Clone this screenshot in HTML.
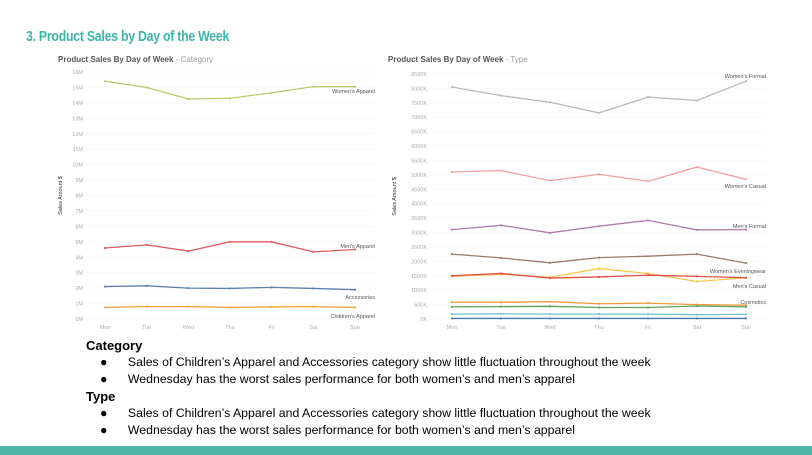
<!DOCTYPE html>
<html><head><meta charset="utf-8"><style>
body{margin:0;width:812px;height:455px;background:#fff;position:relative;overflow:hidden;font-family:"Liberation Sans",sans-serif}
.t{position:absolute;white-space:nowrap}
svg text{font-family:"Liberation Sans",sans-serif}
</style></head><body>
<div class="t" style="left:26px;top:28px;font-size:15px;font-weight:bold;color:#3fb4a8;letter-spacing:-0.3px;transform:scaleX(0.82);transform-origin:0 0">3. Product Sales by Day of the Week</div>
<svg id="c" width="812" height="340" style="position:absolute;left:0;top:0"></svg>
<div class="t" style="left:86px;top:338px;font-size:13px;font-weight:bold">Category</div>
<div class="t" style="left:100px;top:355px;font-size:12.3px">●&nbsp;&nbsp;&nbsp;&nbsp;&nbsp;&nbsp;Sales of Children’s Apparel and Accessories category show little fluctuation throughout the week</div>
<div class="t" style="left:100px;top:372px;font-size:12.3px">●&nbsp;&nbsp;&nbsp;&nbsp;&nbsp;&nbsp;Wednesday has the worst sales performance for both women’s and men’s apparel</div>
<div class="t" style="left:86px;top:389px;font-size:13px;font-weight:bold">Type</div>
<div class="t" style="left:100px;top:406px;font-size:12.3px">●&nbsp;&nbsp;&nbsp;&nbsp;&nbsp;&nbsp;Sales of Children’s Apparel and Accessories category show little fluctuation throughout the week</div>
<div class="t" style="left:100px;top:423px;font-size:12.3px">●&nbsp;&nbsp;&nbsp;&nbsp;&nbsp;&nbsp;Wednesday has the worst sales performance for both women’s and men’s apparel</div>
<div style="position:absolute;left:0;top:446px;width:812px;height:9px;background:#4db6a9"></div>
<script>
const days=["Mon","Tue","Wed","Thu","Fri","Sat","Sun"];
const catNames=["Women's Apparel","Men's Apparel","Accessories","Children's Apparel"];
const catWomen=[15.4,15.0,14.25,14.3,14.65,15.05,15.05];
const catMen=[4.6,4.8,4.4,5.0,5.0,4.35,4.5];
const catAcc=[2.1,2.15,2.0,1.98,2.05,1.98,1.9];
const catChild=[0.75,0.8,0.8,0.75,0.78,0.8,0.75];
const catTicks=[0,1,2,3,4,5,6,7,8,9,10,11,12,13,14,15,16];
const typeNames=["Women's Formal","Women's Casual","Men's Formal","Women's Eveningwear","Men's Casual","Type Yellow","Cosmetics","Type Green","Type Teal","Type Blue"];
const tWFormal=[8050,7750,7520,7150,7700,7580,8250];
const tWCasual=[5100,5150,4800,5020,4780,5270,4850];
const tMFormal=[3100,3250,2990,3220,3420,3090,3100];
const tWEven=[2250,2120,1950,2130,2180,2250,1940];
const tMCasual=[1500,1580,1420,1460,1520,1480,1430];
const tYellow=[1480,1550,1450,1750,1580,1300,1430];
const tCosm=[580,580,600,530,550,500,480];
const tGreen=[420,430,440,400,400,450,420];
const tTeal=[170,180,170,170,170,150,160];
const tBlue=[20,20,20,20,20,20,20];
const typeTicks=[0,500,1000,1500,2000,2500,3000,3500,4000,4500,5000,5500,6000,6500,7000,7500,8000,8500];
const NS="http://www.w3.org/2000/svg",svg=document.getElementById('c');
function el(t,a,txt){const e=document.createElementNS(NS,t);for(const k in a)e.setAttribute(k,a[k]);if(txt!==undefined)e.textContent=txt;svg.appendChild(e);return e;}
function chart(o){
 const x=i=>o.x0+i*(o.x1-o.x0)/6, y=v=>o.y0-(v-o.min)*(o.y0-o.y1)/(o.max-o.min);
 let e=el('text',{x:o.tx,y:62,'font-size':8,'font-weight':'bold',fill:'#555'},o.title);
 
 const ts=document.createElementNS(NS,'tspan');ts.setAttribute('font-weight','normal');ts.setAttribute('fill','#999');ts.textContent=' - '+o.sub;e.appendChild(ts);
 o.ticks.forEach(t=>{const yy=y(t);
  e=el('line',{x1:o.gx,x2:o.x1+20,y1:yy,y2:yy,stroke:'#f9f9f9','stroke-width':1});
  
  e=el('text',{x:o.lx,y:yy+2,'font-size':5.5,fill:'#aaa','text-anchor':'end'},o.fmt(t));
  });
 days.forEach((d,i)=>{e=el('text',{x:x(i),y:329,'font-size':5.5,fill:'#aaa','text-anchor':'middle'},d);
  });
 e=el('text',{x:0,y:0,'font-size':5.5,fill:'#333','text-anchor':'middle',transform:`translate(${o.ax},${(o.y0+o.y1)/2}) rotate(-90)`},'Sales Amount $');
 
 o.series.forEach(s=>{
  e=el('polyline',{points:s.v.map((v,i)=>x(i)+','+y(v)).join(' '),fill:'none',stroke:s.c,'stroke-width':1.3});
  
  s.v.forEach((v,i)=>{const p=el('circle',{cx:x(i),cy:y(v),r:1.1,fill:s.c});
   });
  if(s.l){e=el('text',{x:o.x1+20,y:s.ly,'font-size':5.5,fill:'#555','text-anchor':'end'},s.l);
   }
 });
}
chart({id:'category',title:'Product Sales By Day of Week',sub:'Category',tx:58,x0:105,x1:355,y0:319,y1:72,min:0,max:16,ticks:catTicks,fmt:t=>t+'M',lx:83,gx:86,ax:62,
 series:[{k:'womens-apparel',v:catWomen,c:'#b5cc6a',l:catNames[0],ly:93},
 {k:'mens-apparel',v:catMen,c:'#e05a5f',l:catNames[1],ly:248},
 {k:'accessories',v:catAcc,c:'#5b7fb0',l:catNames[2],ly:299},
 {k:'childrens-apparel',v:catChild,c:'#f5a040',l:catNames[3],ly:318}]});
chart({id:'type',title:'Product Sales By Day of Week',sub:'Type',tx:388,x0:452,x1:746,y0:319,y1:74,min:0,max:8500,ticks:typeTicks,fmt:t=>t+'K',lx:427,gx:430,ax:396,
 series:[{k:'womens-formal',v:tWFormal,c:'#b8b8b8',l:typeNames[0],ly:78},
 {k:'womens-casual',v:tWCasual,c:'#f4a0a4',l:typeNames[1],ly:188},
 {k:'mens-formal',v:tMFormal,c:'#b07cab',l:typeNames[2],ly:228},
 {k:'womens-eveningwear',v:tWEven,c:'#9b7a6c',l:typeNames[3],ly:273},
 {k:'yellow',v:tYellow,c:'#f5c84c'},
 {k:'mens-casual',v:tMCasual,c:'#e0504a',l:typeNames[4],ly:288},
 {k:'cosmetics',v:tCosm,c:'#f09a3e',l:typeNames[6],ly:304},
 {k:'green',v:tGreen,c:'#5aa35a'},
 {k:'teal',v:tTeal,c:'#79c0c4'},
 {k:'blue',v:tBlue,c:'#4a78b0'}]});
</script>
</body></html>
